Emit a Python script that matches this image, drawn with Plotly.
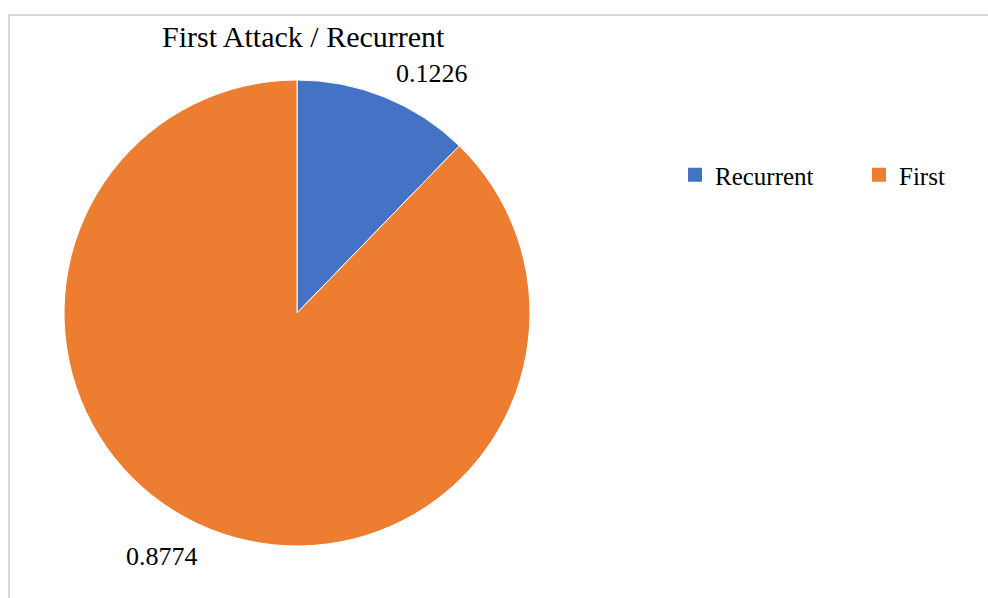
import plotly.graph_objects as go

# Share of first attacks vs recurrent cases
categories = ["Recurrent", "First"]
shares = [0.1226, 0.8774]
colors = ["#4472C4", "#ED7D31"]

W, H = 988, 598
FONT = "Liberation Serif"

# pie geometry in pixels
cx, cy, r = 297, 313, 233

fig = go.Figure()
fig.add_trace(
    go.Pie(
        labels=categories,
        values=shares,
        sort=False,
        direction="clockwise",
        rotation=0,
        marker=dict(colors=colors, line=dict(color="white", width=1)),
        textinfo="none",
        hoverinfo="label+value",
        showlegend=False,
        domain=dict(x=[(cx - r) / W, (cx + r) / W], y=[(H - cy - r) / H, (H - cy + r) / H]),
    )
)

# legend entries with square swatches
for name, col in zip(categories, colors):
    fig.add_trace(go.Scatter(
        x=[None], y=[None], mode="markers", name=name,
        marker=dict(symbol="square", size=14, color=col),
        showlegend=True,
    ))

# value labels placed outside each slice (pixel centres)
label_pos = [(432, 73), (162, 556)]
annotations = []
for val, (px, py) in zip(shares, label_pos):
    annotations.append(dict(
        x=px / W, y=(H - py) / H,
        xref="paper", yref="paper", text=f"{val:.4f}", showarrow=False,
        font=dict(family=FONT, size=26, color="black"),
        xanchor="center", yanchor="middle",
    ))

annotations.append(dict(
    x=303 / W, y=(H - 37) / H, xref="paper", yref="paper",
    text="First Attack / Recurrent", showarrow=False,
    font=dict(family=FONT, size=30, color="black"),
    xanchor="center", yanchor="middle",
))

fig.update_layout(
    width=W, height=H,
    margin=dict(l=0, r=0, t=0, b=0, autoexpand=False),
    paper_bgcolor="white",
    plot_bgcolor="rgba(0,0,0,0)",
    xaxis=dict(visible=False),
    yaxis=dict(visible=False),
    showlegend=True,
    legend=dict(
        orientation="h",
        x=675 / W, y=(H - 175) / H,
        xanchor="left", yanchor="middle",
        font=dict(family=FONT, size=25, color="black"),
        itemwidth=30,
        entrywidth=139,
        itemclick=False,
        bgcolor="rgba(0,0,0,0)",
    ),
    annotations=annotations,
    shapes=[dict(
        type="rect", xref="paper", yref="paper",
        x0=9 / W, x1=1.02, y0=-0.02, y1=(H - 15) / H,
        line=dict(color="#D9D9D9", width=2), fillcolor="rgba(0,0,0,0)",
    )],
)

fig.write_html("out.html")
